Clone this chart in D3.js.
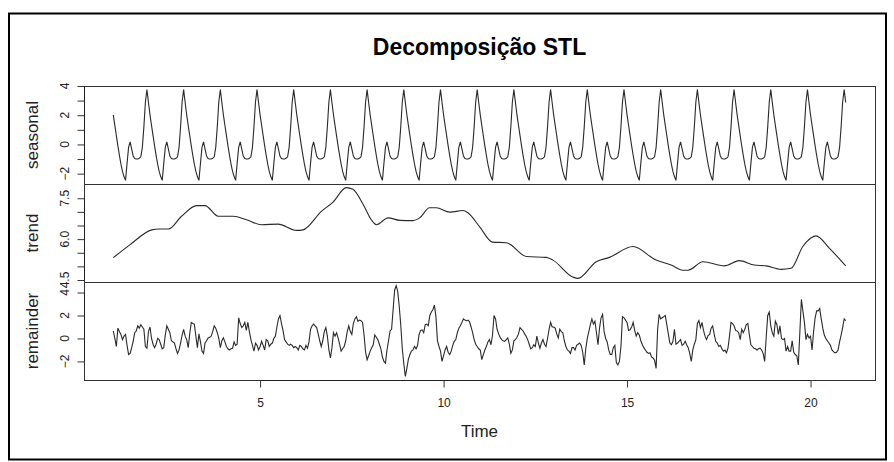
<!DOCTYPE html>
<html>
<head>
<meta charset="utf-8">
<script src="https://cdn.jsdelivr.net/npm/d3@7"></script>
<style>
  body { margin: 0; background: #fff; }
  svg { display: block; font-family: "Liberation Sans", Arial, Helvetica, sans-serif; }
</style>
</head>
<body>
<svg id="chart" width="894" height="462"></svg>
<script>
// series: 20 cycles, 24 obs per cycle, starting at time 1
var freq = 24;
var startTime = 1;

// one cycle of the (periodic) seasonal component
var seasonalCycle = [2.02, 1.3, 0.6, -0.1, -0.75, -1.35, -1.85, -2.2, -2.46, -1.3, -0.2, 0.18,
                     -0.3, -0.8, -0.97, -1.0, -1.0, -0.95, -0.85, -0.2, 1.2, 2.9, 3.75, 2.87];

// trend, read at knots
var trendTime = [1.00, 1.45, 2.05, 2.25, 2.50, 2.86, 3.27, 3.50, 3.86, 4.27, 4.63, 5.04, 5.49, 5.99,
                 6.17, 6.67, 6.99, 7.35, 7.53, 7.81, 8.03, 8.17, 8.49, 8.81, 9.17, 9.35, 9.62, 9.80,
                 10.17, 10.53, 10.67, 10.99, 11.33, 11.71, 12.26, 12.80, 12.98, 13.52, 13.66, 14.16,
                 14.52, 15.16, 15.79, 16.20, 16.52, 16.66, 17.07, 17.65, 18.06, 18.47, 18.79, 19.20,
                 19.47, 19.79, 20.01, 20.15, 20.51, 20.958];
var trendValue = [5.32, 5.79, 6.34, 6.37, 6.37, 6.84, 7.23, 7.23, 6.84, 6.84, 6.71, 6.53, 6.55, 6.32,
                  6.34, 7.02, 7.36, 7.89, 7.83, 7.27, 6.71, 6.53, 6.78, 6.69, 6.68, 6.78, 7.15, 7.15,
                  6.99, 7.05, 6.96, 6.44, 5.89, 5.87, 5.36, 5.33, 5.23, 4.61, 4.56, 5.17,
                  5.33, 5.73, 5.23, 5.05, 4.86, 4.86, 5.17, 5.02, 5.21, 5.05, 5.02, 4.89,
                  4.93, 5.73, 6.04, 6.12, 5.67, 5.02];

// remainder, one row per cycle
var remainder = [
  0.65, 0.0, -0.7, 0.9, 0.6, 0.35, -0.1, 0.2, 0.35, -0.6, -1.4, -1.3, -0.8, -0.25, 0.5, 0.65, 1.1, 0.9, 1.2, 1.0, 0.8, -0.7, -0.85, 0.6,
  1.0, 0.0, -0.5, -0.8, -0.5, 0.0, -0.1, -0.5, -0.9, -0.8, 0.3, 1.1, 0.8, 0.5, -0.2, -0.3, -0.4, -0.9, -1.3, -1.0, -0.4, 0.3, 0.8, 0.2,
  -0.1, -0.8, 0.4, 1.4, 1.3, 1.25, 0.2, -0.8, 0.4, -0.3, -1.1, -1.3, -0.4, -0.2, 0.05, 0.1, 0.2, 0.6, 1.1, 0.9, 0.5, 0.0, -0.8, -0.2,
  0.05, -0.3, -0.7, -0.9, -1.0, -0.9, -0.85, -0.3, -0.6, -0.5, 1.8, 1.3, 0.95, 1.1, 1.4, 0.7, 1.4, 0.6, -0.1, -0.6, -1.1, -0.4, -0.6, -1.0,
  -0.7, -0.25, -0.6, -1.0, -0.1, -0.2, -0.7, -0.5, -0.4, 0.0, 0.2, 1.0, 1.7, 2.0, 1.3, 0.7, -0.1, -0.3, -0.5, -0.6, -0.5, -0.6, -0.8, -0.7,
  -0.8, -1.0, -0.6, -0.7, -0.9, -1.0, -0.6, -0.85, -0.3, 0.8, 1.1, 1.25, 1.1, 0.95, 0.4, -0.2, -0.7, -0.2, 0.6, 0.95, 0.2, -1.0, -1.7, -0.8,
  0.5, 0.2, 0.5, 0.05, -0.5, -1.1, -0.9, -0.7, -0.2, 0.6, 1.1, 0.6, 0.35, 1.3, 1.7, 1.9, 1.5, 1.6, 1.55, 1.4, 0.3, -1.2, -1.85, -1.5,
  -1.1, -0.8, -0.55, 0.3, 0.1, -0.1, -0.5, -0.9, -1.6, -2.0, -2.15, -1.0, -0.2, 0.65, 0.8, 2.5, 4.2, 4.6, 4.1, 2.8, 1.2, -0.9, -2.2, -3.3,
  -2.6, -1.8, -1.4, -1.1, -1.0, -0.7, -0.9, -0.6, 0.35, 0.7, 0.75, 0.5, 1.2, 1.25, 1.1, 2.0, 2.3, 2.5, 2.9, 1.9, -0.2, -0.7, -1.1, -2.0,
  -1.5, -1.0, -0.7, -1.2, -1.4, -1.1, -0.6, -0.25, -0.1, 0.5, 0.9, 1.1, 1.4, 1.7, 1.6, 1.55, 1.6, 1.45, 1.0, 0.5, -0.1, -0.5, -0.7, -0.9,
  -1.0, -1.85, -1.4, -1.0, -0.7, -0.3, -0.1, -0.55, 0.3, 2.0, 1.7, 0.8, 0.4, 0.1, -0.1, -0.2, -0.25, -0.1, 0.05, -0.5, -1.3, -1.0, -0.2, -0.1,
  0.1, 0.4, 0.95, 0.8, 0.65, 0.4, 0.2, -0.1, -0.5, -0.9, -0.8, -0.55, -0.7, 0.2, -0.4, -0.85, -0.4, -0.1, -0.5, -0.7, 0.0, 0.8, 1.4, 1.0,
  1.0, 0.9, 0.4, 0.05, 0.8, 0.6, 0.5, -0.2, -0.7, -1.0, -1.1, -1.3, -0.8, -0.8, -1.0, -0.6, -0.5, -0.4, -0.6, -1.2, -2.3, -0.9, 0.0, 0.6,
  1.2, 1.7, 1.25, 1.5, 0.5, -0.55, 0.9, 1.8, 2.1, 0.6, 0.0, -0.3, -1.0, -1.4, -1.4, -0.8, -0.6, -2.1, -2.3, -2.0, -0.7, 1.9, 1.8, 1.6,
  1.4, 0.7, 0.75, 1.0, 1.4, 0.7, 0.2, 0.5, 0.3, -0.2, -0.55, -0.8, -1.0, -1.2, -1.3, -1.25, -1.6, -1.7, -1.9, -2.6, 0.8, 2.1, 1.7, 1.8,
  1.9, 2.0, 1.2, 0.4, -0.4, -0.55, -0.25, 0.8, -0.5, -0.4, -0.25, -0.1, -0.6, -0.5, -0.25, -0.55, -0.8, -1.3, -2.0, -1.0, -0.5, -0.1, 1.3, 1.55,
  0.95, 1.4, 0.7, 0.2, -0.1, 0.25, 0.35, 0.9, 1.1, 0.35, -0.25, -0.4, -0.7, -0.6, -0.9, -1.1, -1.0, -1.25, -0.85, 0.2, 1.4, 1.3, 1.1, 0.7,
  0.65, 0.5, -0.1, 0.8, 0.5, 0.8, 1.2, 1.3, 0.3, -0.55, -0.7, -0.85, -0.9, -1.0, -0.9, -0.85, -1.0, -1.3, -2.0, 0.1, 2.0, 2.3, 1.1, 0.5,
  0.2, 1.5, 1.2, 0.35, 1.1, 0.0, -0.1, 0.0, -1.1, -0.7, -1.1, -1.1, -0.2, -1.2, -1.4, -1.5, -2.3, 0.5, 3.4, 2.4, 1.4, -0.1, 0.35, 0.05,
  0.2, -1.0, 0.6, 1.8, 2.4, 2.4, 2.6, 1.7, 0.9, 0.3, 0.0, -0.2, -0.4, -0.6, -1.0, -1.15, -1.25, -1.2, -1.0, -0.3, 0.3, 0.95, 1.7, 1.55
];

var xTicks = [5, 10, 15, 20];
var seasonalTicks = [-2, -1, 0, 1, 2, 3, 4], seasonalLabels = [-2, 0, 2, 4];
var trendTicks = [4.5, 5, 5.5, 6, 6.5, 7, 7.5], trendLabels = [4.5, 6, 7.5];
var remainderTicks = [-2, 0, 2, 4], remainderLabels = [-2, 0, 2, 4];

var n = remainder.length;
var time = d3.range(n).map(function(i) { return startTime + i / freq; });
var seasonal = time.map(function(t, i) { return seasonalCycle[i % freq]; });

var svg = d3.select("#chart");
var plotLeft = 84, plotRight = 875, plotTop = 86, panelH = 98;

// outer frame
svg.append("rect")
    .attr("x", 9).attr("y", 13.5).attr("width", 877).attr("height", 446)
    .attr("fill", "none").attr("stroke", "#000").attr("stroke-width", 2);

svg.append("text")
    .attr("x", (plotLeft + plotRight) / 2).attr("y", 55)
    .attr("text-anchor", "middle")
    .style("font-size", "23px").style("font-weight", "bold")
    .text("Decomposição STL");

// R style axis range: data range + 4%
function padded(ext) {
  var r = ext[1] - ext[0];
  return [ext[0] - 0.04 * r, ext[1] + 0.04 * r];
}

var x = d3.scaleLinear()
    .domain(padded([time[0], time[n - 1]]))
    .range([plotLeft, plotRight]);

var panels = [
  {name: "seasonal", t: time, v: seasonal, ticks: seasonalTicks, labels: seasonalLabels, fmt: d3.format("d")},
  {name: "trend", t: trendTime, v: trendValue, ticks: trendTicks, labels: trendLabels, fmt: d3.format(".1f"), smooth: true},
  {name: "remainder", t: time, v: remainder, ticks: remainderTicks, labels: remainderLabels, fmt: d3.format("d")}
];

panels.forEach(function(p, k) {
  var y0 = plotTop + k * panelH;
  var y = d3.scaleLinear()
      .domain(padded(d3.extent(p.v)))
      .range([y0 + panelH, y0]);

  var g = svg.append("g");

  g.append("rect")
      .attr("x", plotLeft + 0.5).attr("y", y0 + 0.5)
      .attr("width", plotRight - plotLeft).attr("height", panelH)
      .attr("fill", "none").attr("stroke", "#333").attr("stroke-width", 1);

  var line = d3.line()
      .x(function(d, i) { return x(p.t[i]); })
      .y(function(d) { return y(d); });
  if (p.smooth) line.curve(d3.curveMonotoneX);

  g.append("path")
      .datum(p.v)
      .attr("d", line)
      .attr("fill", "none")
      .attr("stroke", "#2a2a2a")
      .attr("stroke-width", 1.1);

  // y axis (ticks only, labels drawn rotated below)
  var ax = g.append("g")
      .attr("transform", "translate(" + (plotLeft + 0.5) + ",0)")
      .call(d3.axisLeft(y).tickValues(p.ticks).tickSize(7).tickFormat(""));
  ax.select(".domain").remove();
  ax.selectAll(".tick line").attr("stroke", "#333");
  ax.append("line")
      .attr("y1", y(d3.min(p.ticks))).attr("y2", y(d3.max(p.ticks)))
      .attr("stroke", "#222");

  g.selectAll(".ylab")
      .data(p.labels)
      .enter().append("text")
      .attr("transform", function(d) { return "translate(69," + y(d) + ") rotate(-90)"; })
      .attr("text-anchor", "middle")
      .style("font-size", "12px")
      .attr("fill", "#222")
      .text(p.fmt);

  g.append("text")
      .attr("transform", "translate(38," + (y0 + panelH / 2) + ") rotate(-90)")
      .attr("text-anchor", "middle")
      .style("font-size", "17px")
      .attr("fill", "#222")
      .text(p.name);
});

// x axis under the last panel
var plotBottom = plotTop + 3 * panelH;
var xa = svg.append("g")
    .attr("transform", "translate(0," + (plotBottom + 0.5) + ")")
    .call(d3.axisBottom(x).tickValues(xTicks).tickSize(7).tickPadding(11));
xa.select(".domain").remove();
xa.selectAll(".tick line").attr("stroke", "#333");
xa.selectAll(".tick text").style("font-size", "12px").attr("fill", "#222").attr("font-family", null);
xa.append("line")
    .attr("x1", x(d3.min(xTicks))).attr("x2", x(d3.max(xTicks)))
    .attr("stroke", "#222");

svg.append("text")
    .attr("x", (plotLeft + plotRight) / 2).attr("y", 437)
    .attr("text-anchor", "middle")
    .style("font-size", "17px")
    .attr("fill", "#222")
    .text("Time");
</script>
</body>
</html>
